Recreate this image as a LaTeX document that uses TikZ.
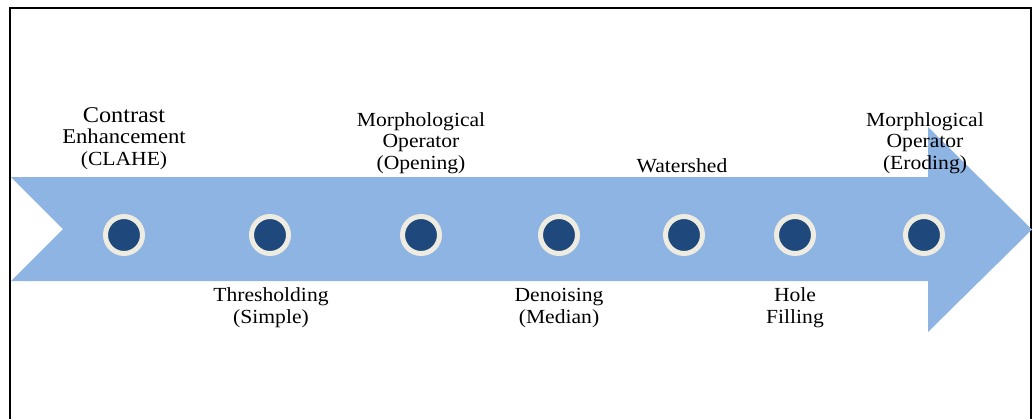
\documentclass[tikz,border=0pt]{standalone}
\usepackage{fontspec}
\setmainfont{Liberation Serif}[FakeStretch=1.08]
\definecolor{arrowblue}{HTML}{8EB4E3}
\definecolor{ringcream}{HTML}{EEECE1}
\definecolor{dotblue}{HTML}{1F497D}
\begin{document}
\begin{tikzpicture}[x=1pt,y=-1pt,
  dot/.style={circle,draw=ringcream,line width=5pt,fill=dotblue,minimum size=37pt,inner sep=0pt},
  lbl/.style={align=center,inner sep=0pt,anchor=base,font=\fontsize{20}{21.5}\selectfont}]
\useasboundingbox (0,0) rectangle (1034,418);
% frame
\draw[line width=1.6pt] (10,420) -- (10,8) -- (1031,8) -- (1031,420);
% big arrow
\fill[arrowblue] (11,177) -- (928,177) -- (928,127) -- (1032,229.5) -- (928,332) -- (928,281) -- (11,281) -- (63,229) -- cycle;
% dots
\node[dot] (d1) at (124,235) {};
\node[dot] (d2) at (270,235) {};
\node[dot] (d3) at (421,235) {};
\node[dot] (d4) at (559,235) {};
\node[dot] (d5) at (684,235) {};
\node[dot] (d6) at (795,235) {};
\node[dot] (d7) at (924,235) {};
% labels (base anchor = baseline of last line)
\node[lbl] (t1) at (124,165) {{\fontsize{22.5}{21.5}\selectfont Contrast}\\{\fontsize{21}{21.5}\selectfont Enhancement}\\(CLAHE)};
\node[lbl] (t2) at (271,323) {Thresholding\\(Simple)};
\node[lbl] (t3) at (421,169) {Morphological\\Operator\\(Opening)};
\node[lbl] (t4) at (559,323) {Denoising\\(Median)};
\node[lbl] (t5) at (682,172) {Watershed};
\node[lbl] (t6) at (795,323) {Hole\\Filling};
\node[lbl] (t7) at (925,169) {Morphlogical\\Operator\\(Eroding)};
\end{tikzpicture}
\end{document}
